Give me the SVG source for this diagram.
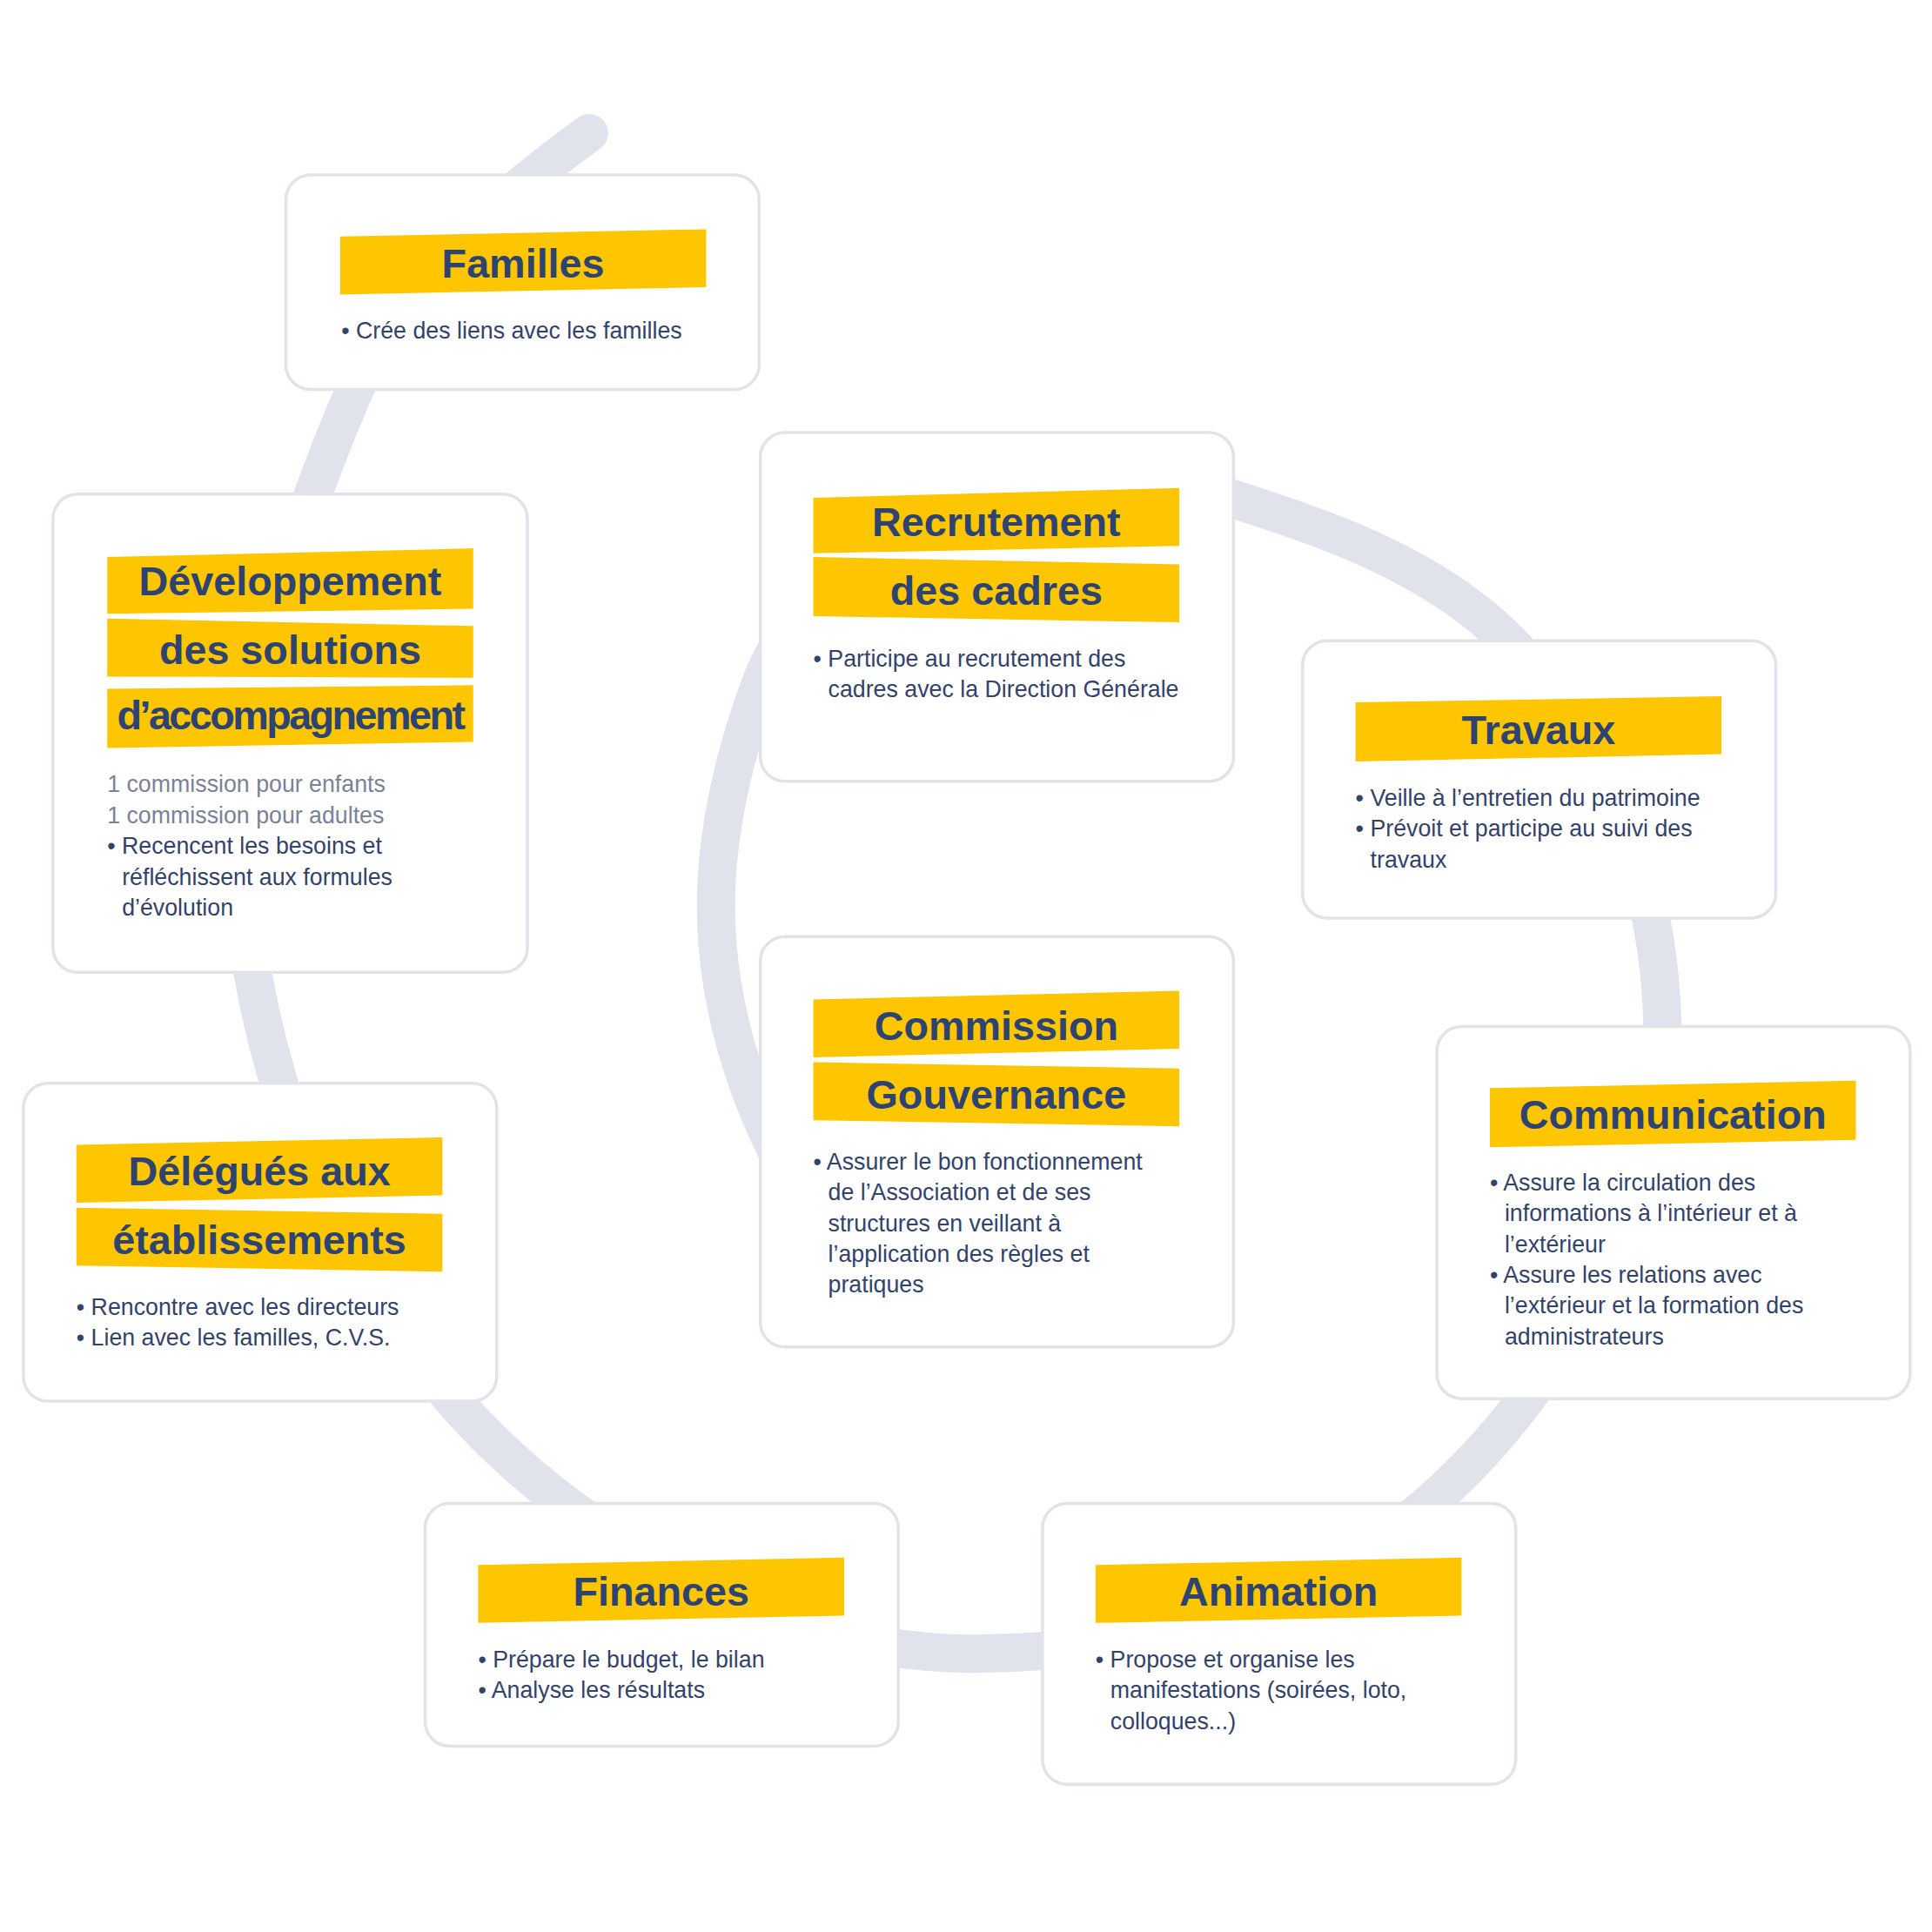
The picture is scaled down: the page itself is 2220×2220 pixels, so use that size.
<svg xmlns="http://www.w3.org/2000/svg" width="2220" height="2220" viewBox="0 0 2220 2220">
<style>
.card{fill:#ffffff;stroke:#e2e3e9;stroke-width:2.5}
.bar{fill:#fec600}
.t{font-family:"Liberation Sans",Arial,sans-serif;font-weight:700;font-size:33px;fill:#2d4371;text-anchor:middle}
.b{font-family:"Liberation Sans",Arial,sans-serif;font-size:18.9px;fill:#33426b}
.g{font-family:"Liberation Sans",Arial,sans-serif;font-size:18.9px;fill:#7b8197}
.ring{fill:none;stroke:#e1e3ec;stroke-width:31;stroke-linecap:round}
</style>
<rect width="2220" height="2220" fill="#ffffff"/>
<g transform="scale(1.416)">
<g id="connectors">
<path class="ring" d="M478,108 C402,163 326,230 288,316 C224,463 178,632 205,789 C234,956 322,1118 458,1220 C552,1291 672,1342 790,1342 C920,1342 1062,1306 1160,1220 C1269,1124 1346,978 1349,833 C1347,718 1305,602 1224,520 C1164,460 1082,431 1001,405 C881,367 670,414 617,555 C596,611 581,675 581,735 C581,820 610,910 660,985"/>
</g>
<g id="familles">
<rect class="card" x="232" y="142" width="384" height="174" rx="20"/>
<polygon class="bar" points="276,192 573,186 573,233 276,239"/>
<text class="t" x="424.5" y="225">Familles</text>
<text class="b" x="277" y="275">• Crée des liens avec les familles</text>
</g>
<g id="developpement">
<rect class="card" x="43" y="401" width="385" height="388" rx="20"/>
<polygon class="bar" points="87,452 384,445 384,494 87,498"/>
<polygon class="bar" points="87,502 384,508 384,550 87,549"/>
<polygon class="bar" points="87,559 384,556 384,602 87,607"/>
<text class="t" x="235.5" y="483">Développement</text>
<text class="t" x="235.5" y="539">des solutions</text>
<text class="t" x="235.5" y="592" letter-spacing="-1.8">d’accompagnement</text>
<text class="g" x="87" y="643">1 commission pour enfants</text>
<text class="g" x="87" y="668">1 commission pour adultes</text>
<text class="b" x="87" y="693">• Recencent les besoins et</text>
<text class="b" x="99" y="718">réfléchissent aux formules</text>
<text class="b" x="99" y="743">d’évolution</text>
</g>
<g id="recrutement">
<rect class="card" x="617" y="351" width="384" height="283" rx="20"/>
<polygon class="bar" points="660,404 957,396 957,443 660,449"/>
<polygon class="bar" points="660,452 957,458 957,505 660,500"/>
<text class="t" x="808.5" y="435">Recrutement</text>
<text class="t" x="808.5" y="491">des cadres</text>
<text class="b" x="660" y="541">• Participe au recrutement des</text>
<text class="b" x="672" y="566">cadres avec la Direction Générale</text>
</g>
<g id="travaux">
<rect class="card" x="1057" y="520" width="384" height="225" rx="20"/>
<polygon class="bar" points="1100,570 1397,565 1397,612 1100,618"/>
<text class="t" x="1248.5" y="604">Travaux</text>
<text class="b" x="1100" y="654">• Veille à l’entretien du patrimoine</text>
<text class="b" x="1100" y="679">• Prévoit et participe au suivi des</text>
<text class="b" x="1112" y="704">travaux</text>
</g>
<g id="commission">
<rect class="card" x="617" y="760" width="384" height="333" rx="20"/>
<polygon class="bar" points="660,811 957,804 957,851 660,858"/>
<polygon class="bar" points="660,862 957,867 957,914 660,909"/>
<text class="t" x="808.5" y="844">Commission</text>
<text class="t" x="808.5" y="900">Gouvernance</text>
<text class="b" x="660" y="949">• Assurer le bon fonctionnement</text>
<text class="b" x="672" y="974">de l’Association et de ses</text>
<text class="b" x="672" y="999">structures en veillant à</text>
<text class="b" x="672" y="1024">l’application des règles et</text>
<text class="b" x="672" y="1049">pratiques</text>
</g>
<g id="delegues">
<rect class="card" x="19" y="879" width="384" height="258" rx="20"/>
<polygon class="bar" points="62,929 359,923 359,970 62,976"/>
<polygon class="bar" points="62,980 359,985 359,1032 62,1027"/>
<text class="t" x="210.5" y="962">Délégués aux</text>
<text class="t" x="210.5" y="1018">établissements</text>
<text class="b" x="62" y="1067">• Rencontre avec les directeurs</text>
<text class="b" x="62" y="1092">• Lien avec les familles, C.V.S.</text>
</g>
<g id="communication">
<rect class="card" x="1166" y="833" width="384" height="302" rx="20"/>
<polygon class="bar" points="1209,883 1506,877 1506,925 1209,931"/>
<text class="t" x="1357.5" y="916">Communication</text>
<text class="b" x="1209" y="966">• Assure la circulation des</text>
<text class="b" x="1221" y="991">informations à l’intérieur et à</text>
<text class="b" x="1221" y="1016">l’extérieur</text>
<text class="b" x="1209" y="1041">• Assure les relations avec</text>
<text class="b" x="1221" y="1066">l’extérieur et la formation des</text>
<text class="b" x="1221" y="1091">administrateurs</text>
</g>
<g id="finances">
<rect class="card" x="345" y="1220" width="384" height="197" rx="20"/>
<polygon class="bar" points="388,1270 685,1264 685,1311 388,1317"/>
<text class="t" x="536.5" y="1303">Finances</text>
<text class="b" x="388" y="1353">• Prépare le budget, le bilan</text>
<text class="b" x="388" y="1378">• Analyse les résultats</text>
</g>
<g id="animation">
<rect class="card" x="846" y="1220" width="384" height="228" rx="20"/>
<polygon class="bar" points="889,1270 1186,1264 1186,1311 889,1317"/>
<text class="t" x="1037.5" y="1303">Animation</text>
<text class="b" x="889" y="1353">• Propose et organise les</text>
<text class="b" x="901" y="1378">manifestations (soirées, loto,</text>
<text class="b" x="901" y="1403">colloques...)</text>
</g>
</g>
</svg>
